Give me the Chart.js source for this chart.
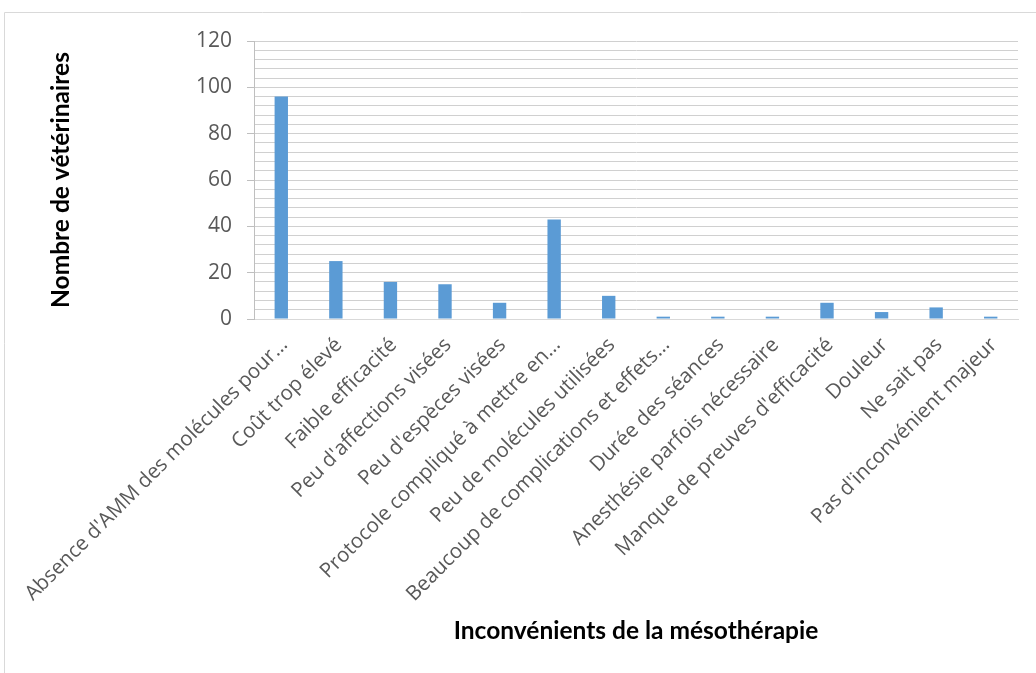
<!DOCTYPE html>
<html><head><meta charset="utf-8">
<script src="https://cdn.jsdelivr.net/npm/chart.js@4/dist/chart.umd.min.js"></script>
<style>html,body{margin:0;padding:0;background:#fff}canvas{display:block}</style>
</head><body>
<canvas id="c" width="1036" height="673"></canvas>
<script>
const categories = [
  "Absence d'AMM des molécules pour\u2026",
  "Coût trop élevé",
  "Faible efficacité",
  "Peu d'affections visées",
  "Peu d'espèces visées",
  "Protocole compliqué à mettre en\u2026",
  "Peu de molécules utilisées",
  "Beaucoup de complications et effets\u2026",
  "Durée des séances",
  "Anesthésie parfois nécessaire",
  "Manque de preuves d'efficacité",
  "Douleur",
  "Ne sait pas",
  "Pas d'inconvénient majeur"
];
const values = [96, 25, 16, 15, 7, 43, 10, 1, 1, 1, 7, 3, 5, 1];
const yMin = 0, yMax = 120, yLabelStep = 20, yGridStep = 4;
const xTitle = "Inconvénients de la mésothérapie";
const yTitle = "Nombre de vétérinaires";

const frame = {
  id: 'frame',
  beforeDraw(chart) {
    const ctx = chart.ctx;
    ctx.save();
    ctx.strokeStyle = '#d9d9d9';
    ctx.lineWidth = 1;
    ctx.beginPath();
    ctx.moveTo(4.5, 700);
    ctx.lineTo(4.5, 12.5);
    ctx.lineTo(1040, 12.5);
    ctx.stroke();
    ctx.restore();
  }
};

new Chart(document.getElementById('c'), {
  type: 'bar',
  data: {
    labels: categories,
    datasets: [{
      data: values,
      backgroundColor: '#5b9bd5',
      borderWidth: 0,
      barPercentage: 0.245,
      categoryPercentage: 1
    }]
  },
  options: {
    responsive: false,
    animation: false,
    layout: { padding: { left: 0, right: 18, top: 41, bottom: 0 } },
    plugins: { legend: { display: false }, tooltip: { enabled: false } },
    scales: {
      x: {
        afterFit(s) { s.height = 673 - 319; },
        grid: { display: false, drawTicks: false },
        border: { display: true, color: '#d9d9d9', width: 1 },
        ticks: {
          autoSkip: false, maxRotation: 45, minRotation: 45, padding: 14, labelOffset: 3,
          color: '#595959', font: { family: 'Open Sans', size: 20.5 }
        },
        title: {
          display: true, text: xTitle, color: '#000',
          font: { family: 'Lato', size: 24.5, weight: 'bold' },
          padding: { top: 0, bottom: 27 }
        }
      },
      y: {
        min: yMin, max: yMax,
        afterFit(s) { s.width = 254; },
        grid: {
          color: '#d0d0d0', lineWidth: 1, drawTicks: true, tickLength: 7,
          tickColor: (c) => (c.tick && c.tick.value % yLabelStep === 0) ? '#bfbfbf' : 'rgba(0,0,0,0)'
        },
        border: { display: true, color: '#bfbfbf', width: 1 },
        ticks: {
          autoSkip: false, stepSize: yGridStep, padding: 15, color: '#595959',
          font: { family: 'Open Sans', size: 21 },
          callback: (v) => (v % yLabelStep === 0 ? String(v) : '')
        },
        title: {
          display: true, text: yTitle, color: '#000',
          font: { family: 'Lato', size: 24.5, weight: 'bold' },
          padding: { top: 46, bottom: 0 }
        }
      }
    }
  },
  plugins: [frame]
});
</script>
</body></html>
